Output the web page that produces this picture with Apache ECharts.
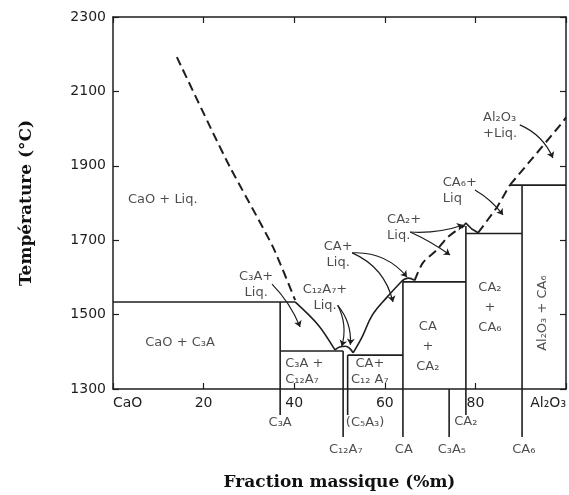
<!DOCTYPE html>
<html>
<head>
<meta charset="UTF-8">
<title>CaO - Al2O3</title>
<script src="https://cdn.jsdelivr.net/npm/echarts@6/dist/echarts.min.js"></script>
</head>
<body style="margin:0">
<div id="main" style="width:569px;height:495px;"></div>
<script>
var myChart = echarts.init(document.getElementById('main'));

// x = % Al2O3, y = temperature (°C)
var xTickNames = {0: 'CaO', 20: '20', 40: '40', 60: '60', 80: '80', 100: 'Al₂O₃'};

// liquidus, dashed parts
var liqCaO = [[14.1, 2192], [22.1, 1988], [25.8, 1897], [35.3, 1682], [40.2, 1539]];
var liqCA2 = [[66.6, 1592], [68.4, 1639], [71.5, 1674], [73.7, 1706], [75.9, 1727], [77.6, 1740]];
var liqCA6 = [[80.6, 1720], [84.8, 1789], [87.6, 1848]];
var liqAl2O3 = [[87.6, 1848], [93.4, 1932], [99.1, 2015], [100, 2030]];

// liquidus, solid parts
var liqC3A = [[40.2, 1534], [45.3, 1472], [49.0, 1405]];
var humpC12A7 = [[49.0, 1405], [50.0, 1413], [51.3, 1415], [52.2, 1410], [53.0, 1397]];
var liqCA = [[53.0, 1397], [55.0, 1440], [57.3, 1500], [60.5, 1547], [64.0, 1593]];
var humpCA = [[64.0, 1593], [65.2, 1598], [66.6, 1592]];
var peakCA2 = [[77.0, 1733], [77.9, 1746], [79.2, 1730], [80.6, 1720]];

// solidus / compound lines
var phaseLines = [
  [[0, 1534], [40.2, 1534]],
  [[36.9, 1230], [36.9, 1534]],
  [[36.9, 1402], [50.8, 1402]],
  [[50.8, 1171], [50.8, 1402]],
  [[51.8, 1230], [51.8, 1391]],
  [[51.8, 1391], [64.0, 1391]],
  [[64.0, 1171], [64.0, 1593]],
  [[64.0, 1588], [77.9, 1588]],
  [[77.9, 1230], [77.9, 1738]],
  [[77.9, 1718], [90.3, 1718]],
  [[90.3, 1171], [90.3, 1848]],
  [[87.6, 1848], [100, 1848]],
  [[74.2, 1171], [74.2, 1300]]
];

// arrows: from, to, bend
var arrows = [
  [[35.1, 1582], [41.3, 1467], 0.1],
  [[49.6, 1525], [50.5, 1415], 0.2],
  [[49.6, 1525], [52.4, 1419], 0.2],
  [[52.8, 1666], [64.9, 1601], 0.25],
  [[52.8, 1666], [61.8, 1534], 0.25],
  [[65.6, 1722], [77.3, 1741], -0.1],
  [[65.6, 1722], [74.4, 1660], 0.05],
  [[79.9, 1835], [86.1, 1768], 0.1],
  [[89.8, 2010], [97.1, 1921], 0.2]
];

var centerLabels = [
  [14.8, 1426, 'CaO + C₃A'],
  [31.6, 1580, 'C₃A+\nLiq.'],
  [46.8, 1545, 'C₁₂A₇+\nLiq.'],
  [49.7, 1660, 'CA+\nLiq.'],
  [56.7, 1346, 'CA+\nC₁₂ A₇'],
  [36.9, 1209, 'C₃A'],
  [77.9, 1211, 'CA₂'],
  [51.4, 1136, 'C₁₂A₇'],
  [64.2, 1136, 'CA'],
  [74.8, 1136, 'C₃A₅'],
  [90.7, 1136, 'CA₆']
];
var leftLabels = [
  [3.3, 1808, 'CaO + Liq.'],
  [60.5, 1733, 'CA₂+\nLiq.'],
  [72.8, 1832, 'CA₆+\nLiq'],
  [81.7, 2007, 'Al₂O₃\n+Liq.'],
  [38.0, 1348, 'C₃A +\nC₁₂A₇'],
  [51.4, 1209, '(C₅A₃)']
];
var stackLabels = [
  [69.5, 1413, 'CA\n+\nCA₂'],
  [83.2, 1518, 'CA₂\n+\nCA₆']
];
var rotatedLabels = [[94.9, 1504, 'Al₂O₃ + CA₆']];

var ink = '#1e1e1e';
var txt = {fontFamily: 'DejaVu Sans', fontSize: 13, color: '#1e1e1e', lineHeight: 16};

function lineSeries(pts, dashed, smooth) {
  return {
    type: 'line', data: pts, clip: false, symbol: 'none', smooth: smooth || false,
    lineStyle: {color: ink, width: dashed ? 2 : 1.6, type: dashed ? [9, 5] : 'solid'},
    z: 3
  };
}

function labelSeries(list, label) {
  return {
    type: 'scatter', clip: false, symbolSize: 0, silent: true,
    data: list.map(function (d) { return {value: [d[0], d[1]], name: d[2]}; }),
    label: Object.assign({show: true, formatter: '{b}'}, txt, label)
  };
}

var series = [];
series.push(lineSeries(liqCaO, true, 0.2));
series.push(lineSeries(liqCA2, true, 0.3));
series.push(lineSeries(liqCA6, true, 0));
series.push(lineSeries(liqAl2O3, true, 0));
series.push(lineSeries(liqC3A, false, 0.3));
series.push(lineSeries(humpC12A7, false, 0.4));
series.push(lineSeries(liqCA, false, 0.4));
series.push(lineSeries(humpCA, false, 0.4));
series.push(lineSeries(peakCA2, false, 0));
phaseLines.forEach(function (seg) { series.push(lineSeries(seg, false, 0)); });

series.push({
  type: 'lines', coordinateSystem: 'cartesian2d', silent: true,
  symbol: ['none', 'arrow'], symbolSize: 6,
  lineStyle: {color: ink, width: 1.2, opacity: 1},
  data: arrows.map(function (a) {
    return {coords: [a[0], a[1]], lineStyle: {curveness: a[2]}};
  }),
  z: 4
});

series.push(labelSeries(centerLabels, {position: 'inside'}));
series.push(labelSeries(leftLabels, {position: 'right', distance: 0}));
series.push(labelSeries(stackLabels, {position: 'inside', lineHeight: 20}));
series.push(labelSeries(rotatedLabels, {position: 'inside', rotate: 90}));

var axisLine = {show: true, onZero: false, lineStyle: {color: ink, width: 1.5}};
var tick = {show: true, inside: true, length: 6, lineStyle: {color: ink, width: 1.2}};

var option = {
  animation: false,
  grid: {left: 113, top: 17, right: 3, bottom: 106, containLabel: false, outerBoundsMode: 'none'},
  xAxis: [{
    type: 'value', min: 0, max: 100, interval: 20,
    axisLine: axisLine, axisTick: tick, splitLine: {show: false},
    axisLabel: {
      color: '#1e1e1e', fontFamily: 'DejaVu Sans', fontSize: 14, margin: 7,
      alignMinLabel: 'left', alignMaxLabel: 'right',
      formatter: function (v) { return xTickNames[v]; }
    },
    name: 'Fraction massique (%m)', nameLocation: 'middle', nameGap: 85,
    nameTextStyle: {fontFamily: 'DejaVu Serif', fontWeight: 'bold', fontSize: 17, color: '#111'}
  }, {
    type: 'value', position: 'top', min: 0, max: 100, interval: 20,
    axisLine: axisLine, axisTick: tick, axisLabel: {show: false}, splitLine: {show: false}
  }],
  yAxis: [{
    type: 'value', min: 1300, max: 2300, interval: 200,
    axisLine: axisLine, axisTick: tick, splitLine: {show: false},
    axisLabel: {
      color: '#1e1e1e', fontFamily: 'DejaVu Sans', fontSize: 14, margin: 7,
      formatter: function (v) { return String(v); }
    },
    name: 'Température (°C)', nameLocation: 'middle', nameGap: 78, nameRotate: 90,
    nameTextStyle: {fontFamily: 'DejaVu Serif', fontWeight: 'bold', fontSize: 17, color: '#111'}
  }, {
    type: 'value', position: 'right', min: 1300, max: 2300, interval: 200,
    axisLine: axisLine, axisTick: tick, axisLabel: {show: false}, splitLine: {show: false}
  }],
  series: series
};

myChart.setOption(option);
</script>
</body>
</html>
